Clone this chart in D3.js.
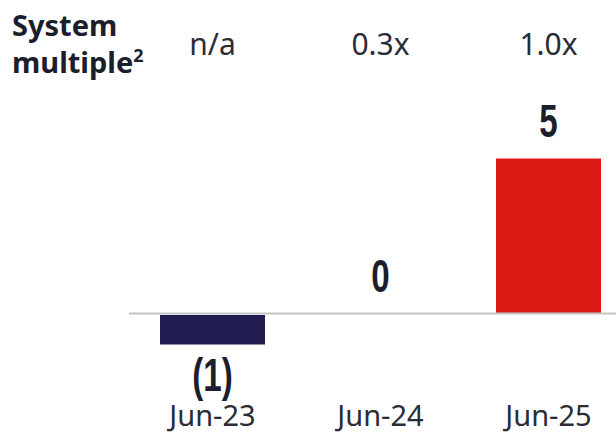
<!DOCTYPE html>
<html>
<head>
<meta charset="utf-8">
<script src="https://cdn.jsdelivr.net/npm/d3@7"></script>
<style>
  body { margin: 0; background: #fff; }
  svg { display: block; }
</style>
</head>
<body>
<svg id="chart" width="616" height="433"></svg>
<script>
// chart data
var periods = ["Jun-23", "Jun-24", "Jun-25"];
var values = [-1, 0, 5];
var valueLabels = ["(1)", "0", "5"];
var multiples = ["n/a", "0.3x", "1.0x"];
var barColors = ["#201c50", "#201c50", "#dc1a13"];

var width = 616, height = 433;
var textColor = "#1c1e2b";

var svg = d3.select("#chart");

var x = d3.scaleBand()
    .domain(periods)
    .range([128.5, 632.5])
    .paddingInner(0.375)
    .paddingOuter(0.1875);

var y = d3.scaleLinear()
    .domain([-1, 5])
    .range([344.5, 158.5]);

var rows = periods.map(function(p, i) {
  return { period: p, value: values[i], label: valueLabels[i], multiple: multiples[i], color: barColors[i] };
});

var mid = function(d) { return x(d.period) + x.bandwidth() / 2; };

// header
var header = svg.append("text")
    .attr("x", 12)
    .attr("y", 36)
    .style("font-family", "'Noto Sans', sans-serif")
    .style("font-weight", "700")
    .style("font-size", "29px")
    .style("fill", textColor);
header.append("tspan").text("System");
header.append("tspan").attr("x", 12).attr("y", 73).text("multiple");
header.append("tspan").attr("dy", -11).style("font-size", "18px").text("2");

svg.append("g")
  .selectAll("text")
  .data(rows)
  .enter().append("text")
    .attr("x", mid)
    .attr("y", 55)
    .attr("text-anchor", "middle")
    .style("font-family", "'Noto Sans', sans-serif")
    .style("font-size", "30px")
    .style("font-weight", "400")
    .style("fill", "#2a2c36")
    .text(function(d) { return d.multiple; });

// bars
svg.append("g")
  .selectAll("rect")
  .data(rows)
  .enter().append("rect")
    .attr("x", function(d) { return x(d.period); })
    .attr("width", x.bandwidth())
    .attr("y", function(d) { return d.value >= 0 ? y(d.value) : y(0) + 1.5; })
    .attr("height", function(d) { return d.value >= 0 ? y(0) - y(d.value) : y(d.value) - y(0) - 1.5; })
    .attr("fill", function(d) { return d.color; });

// zero line
svg.append("line")
    .attr("x1", 129)
    .attr("x2", width)
    .attr("y1", y(0))
    .attr("y2", y(0))
    .style("stroke", "#c4c4c4")
    .style("stroke-width", 2);

// value labels (condensed bold)
svg.append("g")
  .selectAll("text")
  .data(rows)
  .enter().append("text")
    .attr("transform", function(d) {
      var ty = d.value >= 0 ? y(d.value) - 22 : y(d.value) + 46;
      return "translate(" + mid(d) + "," + ty + ") scale(0.72,1)";
    })
    .attr("text-anchor", "middle")
    .style("font-family", "'Liberation Sans', Arial, sans-serif")
    .style("font-weight", "700")
    .style("font-size", "46px")
    .style("fill", textColor)
    .text(function(d) { return d.label; });

// category axis
var xAxis = d3.axisBottom(x).tickSize(0).tickPadding(0);
var axisG = svg.append("g")
    .attr("transform", "translate(0,426)")
    .call(xAxis);
axisG.select(".domain").remove();
axisG.selectAll("text")
    .attr("dy", 0)
    .style("font-family", "'Noto Sans', sans-serif")
    .style("font-size", "29px")
    .style("fill", "#2a2c36");
</script>
</body>
</html>
